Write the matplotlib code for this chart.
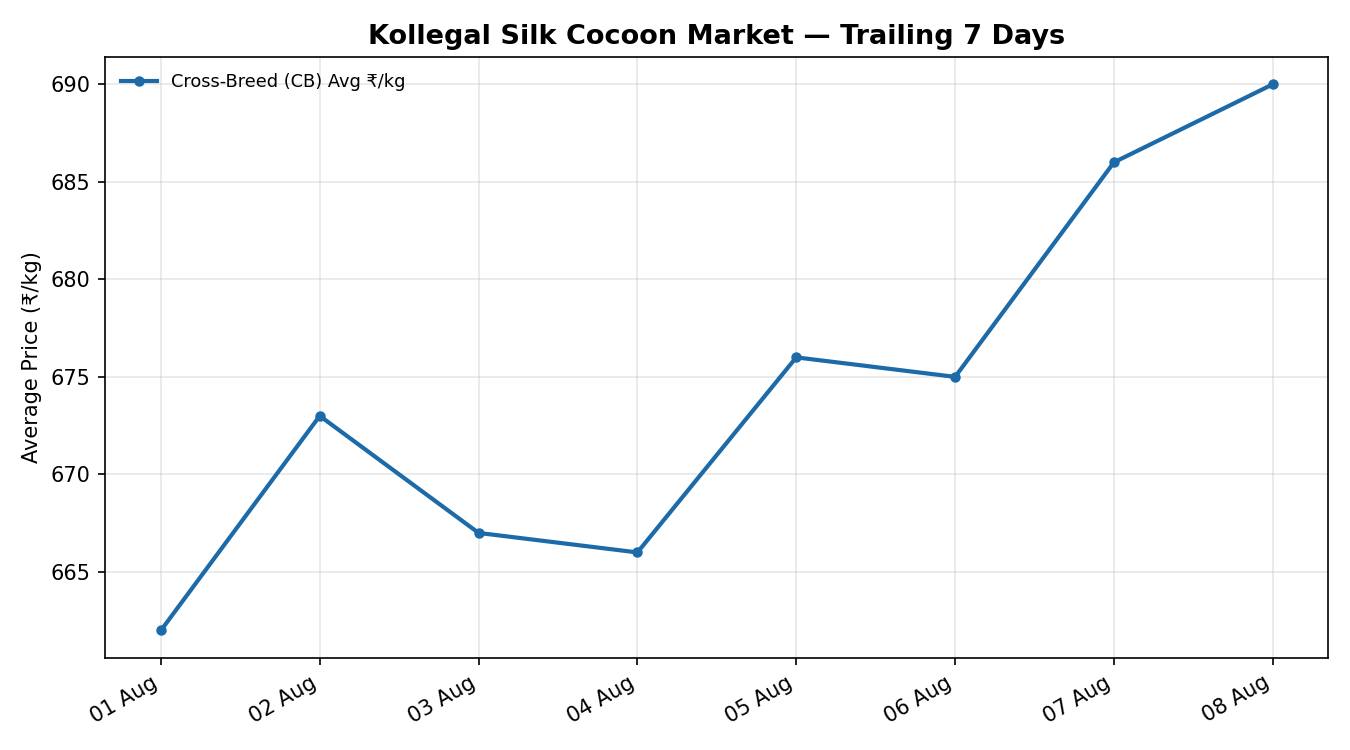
import datetime as dt

import matplotlib
matplotlib.use("Agg")
import matplotlib.pyplot as plt
import matplotlib.dates as mdates

# --- data ---
dates = [dt.date(2024, 8, d) for d in range(1, 9)]
prices = [662, 673, 667, 666, 676, 675, 686, 690]

fig = plt.figure(figsize=(9, 5), dpi=150)
ax = fig.add_axes([0.078, 0.123, 0.906, 0.801])

ax.plot(dates, prices, "o-", color="#1c6aa8", lw=2, ms=4,
        label="Cross-Breed (CB) Avg ₹/kg")

ax.set_title("Kollegal Silk Cocoon Market — Trailing 7 Days",
             fontsize=13, fontweight="bold")
ax.set_ylabel("Average Price (₹/kg)")
ax.xaxis.set_major_locator(mdates.DayLocator())
ax.xaxis.set_major_formatter(mdates.DateFormatter("%d %b"))
ax.set_yticks([665, 670, 675, 680, 685, 690])
ax.grid(alpha=0.3)
ax.legend(loc="upper left", frameon=False, fontsize=8.5)
for lbl in ax.get_xticklabels():
    lbl.set_rotation(30)
    lbl.set_ha("right")

fig.savefig("out.png", dpi=150)
